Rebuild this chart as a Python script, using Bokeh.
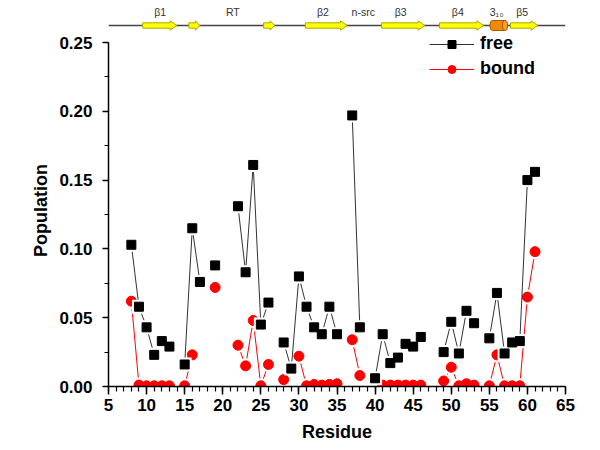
import math
from bokeh.plotting import figure
from bokeh.layouts import column
from bokeh.models import Range1d, Legend, LegendItem, FixedTicker, PrintfTickFormatter
from bokeh.embed import file_html
from bokeh.resources import INLINE
from bokeh.core.properties import value

nan = float("nan")

# ---- data ----
residue = list(range(8, 62))
free = [0.103, 0.058, 0.043, 0.023, 0.033, 0.029, nan, 0.016, 0.115, 0.076,
        nan, 0.088, nan, nan, 0.131, 0.083, 0.161, 0.045, 0.061, nan,
        0.032, 0.013, 0.080, 0.058, 0.043, 0.038, 0.058, 0.038, nan, 0.197,
        0.043, nan, 0.006, 0.038, 0.017, 0.021, 0.031, 0.029, 0.036, nan,
        nan, 0.025, 0.047, 0.024, 0.055, 0.046, nan, 0.035, 0.068, 0.024,
        0.032, 0.033, 0.150, 0.156]
bound = [0.062, 0.001, 0.0005, 0.0005, 0.0005, 0.0005, nan, 0.0005, 0.023, nan,
         nan, 0.072, nan, nan, 0.030, 0.015, 0.048, 0.0005, 0.016, nan,
         0.005, nan, 0.022, 0.0005, 0.0015, 0.001, 0.0015, 0.002, nan, 0.034,
         0.008, nan, nan, 0.001, 0.001, 0.001, 0.001, 0.001, 0.001, nan,
         nan, 0.004, 0.014, 0.0005, 0.002, 0.001, nan, 0.0005, 0.023, 0.0005,
         0.0005, 0.0005, 0.065, 0.098]

x_ticks = [5, 10, 15, 20, 25, 30, 35, 40, 45, 50, 55, 60, 65]
x_minor = list(range(5, 66))
y_ticks = [0.0, 0.05, 0.10, 0.15, 0.20, 0.25]
y_minor = [0.0, 0.025, 0.05, 0.075, 0.10, 0.125, 0.15, 0.175, 0.20, 0.225, 0.25]

# secondary-structure diagram (residue ranges)
strand_start = [7.3, 13.6, 23.8, 29.5, 39.9, 47.8, 57.5]
strand_end = [11.95, 15.1, 25.3, 35.2, 45.8, 53.8, 61.2]
helix_start = [54.7]
helix_end = [57.1]
label_x = [9.7, 19.6, 31.9, 37.4, 42.5, 50.3, 55.6, 59.1]
label_text = ["β1", "RT", "β2", "n-src", "β3", "β4", "3₁₀", "β5"]

FONT = "Liberation Sans"
W = 590
ML, MR = 108, 25
ppu = (W - ML - MR) / 60.0
TL = 90
x_lo = 5 - (ML - TL) / ppu

# ---- top structure strip ----
TH = 32
t = figure(width=W, height=TH, x_range=Range1d(x_lo, 65), y_range=Range1d(0, TH),
           output_backend="svg", toolbar_location=None,
           min_border_left=TL, min_border_right=MR, min_border_top=0, min_border_bottom=0)
t.axis.visible = False
t.xgrid.visible = False
t.ygrid.visible = False
t.outline_line_color = None
yl = 7
t.line([x_lo, 65], [yl, yl], line_color="#444444", line_width=1.5)
xs, ys = [], []
for s, e in zip(strand_start, strand_end):
    h = min(0.9, 0.4 * (e - s))
    xs.append([s, e - h, e - h, e, e - h, e - h, s])
    ys.append([yl - 2.7, yl - 2.7, yl - 4.7, yl, yl + 4.7, yl + 2.7, yl + 2.7])
t.patches(xs, ys, fill_color="#FFFF00", line_color="#A8A800", line_width=1)
r = 0.35
for s, e in zip(helix_start, helix_end):
    t.ellipse([s + r], [yl], width=2 * r, height=10, fill_color="#F08A00", line_color="#A85800")
    t.quad(left=[s + r], right=[e - r], bottom=[yl - 5], top=[yl + 5], fill_color="#F08A00", line_color=None)
    t.segment([s + r, s + r], [yl - 5, yl + 5], [e - r, e - r], [yl - 5, yl + 5], line_color="#A85800")
    t.ellipse([e - r], [yl], width=2 * r, height=10, fill_color="#F5A030", line_color="#A85800")
t.text(x=label_x, y=[20.5] * len(label_x), text=label_text, text_align="center",
       text_baseline="middle", text_font=value(FONT), text_font_size="10.5px",
       text_color="#333333")

# ---- main plot ----
# frame extends 8px above 0.25 so the legend fits inside it; axis line stops at 0.25
FRAME_H = 352
px_per_unit = 344 / 0.25
y_top = (FRAME_H / px_per_unit)
H = 416
p = figure(width=W, height=H, x_range=Range1d(5, 65), y_range=Range1d(0, y_top),
           output_backend="svg", toolbar_location=None,
           min_border_left=ML, min_border_right=MR, min_border_top=2, min_border_bottom=62,
           x_axis_label="Residue", y_axis_label="Population")
p.xgrid.visible = False
p.ygrid.visible = False
p.outline_line_color = None
p.xaxis.ticker = FixedTicker(ticks=x_ticks, minor_ticks=x_minor)
p.yaxis.ticker = FixedTicker(ticks=y_ticks, minor_ticks=y_minor)
p.yaxis.bounds = (y_ticks[0], y_ticks[-1])
p.yaxis.formatter = PrintfTickFormatter(format="%.2f")
p.axis.axis_line_width = 1.5
p.axis.axis_line_color = "black"
p.axis.major_tick_line_width = 1.5
p.axis.minor_tick_line_width = 1.2
p.axis.major_tick_in = 0
p.axis.minor_tick_in = 0
p.xaxis.major_tick_out = 8
p.xaxis.minor_tick_out = 5
p.yaxis.major_tick_out = 6
p.yaxis.minor_tick_out = 4
p.axis.major_label_text_font = FONT
p.axis.major_label_text_font_size = "17px"
p.axis.major_label_text_font_style = "bold"
p.axis.major_label_text_color = "black"
p.xaxis.major_label_standoff = 4
p.yaxis.major_label_standoff = 10
p.axis.axis_label_text_font = FONT
p.axis.axis_label_text_font_size = "18px"
p.axis.axis_label_text_font_style = "bold"
p.axis.axis_label_text_color = "black"
p.xaxis.axis_label_standoff = 8
p.yaxis.axis_label_standoff = 5

rl = p.line(residue, bound, line_color="#FF0000", line_width=1)
p.scatter(residue, bound, marker="circle", size=15, fill_color="white", line_color=None)
rm = p.scatter(residue, bound, marker="circle", size=10, fill_color="#FF0000", line_color="#FF0000")
bl = p.line(residue, free, line_color="#333333", line_width=1)
p.scatter(residue, free, marker="square", size=14, fill_color="white", line_color=None)
bm = p.scatter(residue, free, marker="square", size=9, fill_color="black", line_color="black")

legend = Legend(items=[LegendItem(label="free", renderers=[bl, bm]),
                       LegendItem(label="bound", renderers=[rl, rm])],
                location=(321, 307), padding=0, margin=0, spacing=4,
                glyph_width=45, glyph_height=20, label_height=20, label_standoff=6,
                border_line_color=None, background_fill_alpha=0,
                label_text_font=FONT, label_text_font_size="18px",
                label_text_font_style="bold", label_text_color="black")
p.add_layout(legend)

layout = column(t, p, spacing=0)
open("out.html", "w").write(file_html(layout, INLINE))
